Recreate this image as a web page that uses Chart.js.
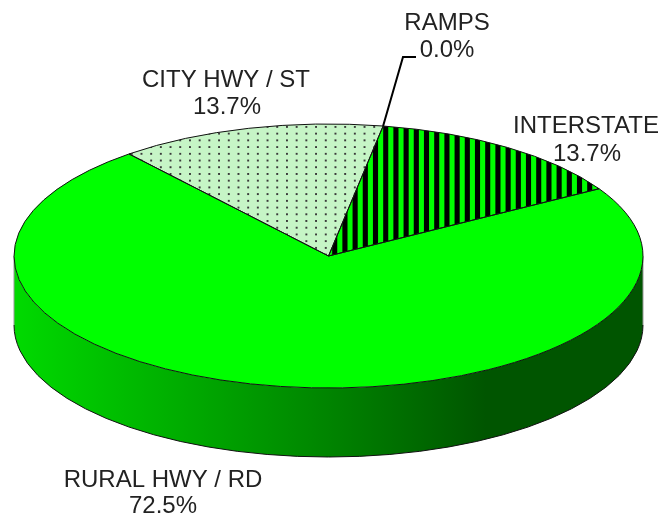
<!DOCTYPE html>
<html><head><meta charset="utf-8">
<style>html,body{margin:0;padding:0;background:#fff}#w{position:relative;width:666px;height:518px}</style>
<script src="https://cdn.jsdelivr.net/npm/chart.js@4"></script></head>
<body><div id="w"><canvas id="c" width="666" height="518"></canvas></div>
<script>
const categories = ['RAMPS','INTERSTATE','RURAL HWY / RD','CITY HWY / ST'];
const shares = [0.0, 13.7, 72.5, 13.7];
const shareLabels = ['0.0%','13.7%','72.5%','13.7%'];

const CX=328.5, CY=256, RX=314.5, RY=132, DEPTH=69;
const FONT='24px "Liberation Sans", Arial, sans-serif';
const TEXT='#222';

function stripes(sx,sy){
  const t=document.createElement('canvas');t.width=10;t.height=10;
  const g=t.getContext('2d');g.fillStyle='#00ff00';g.fillRect(0,0,10,10);
  g.fillStyle='#000';g.fillRect(0,0,5,10);
  const p=g.createPattern(t,'repeat');
  p.setTransform(new DOMMatrix().translate(0,0).scale(sx*1.02,sy));
  return p;
}
function dots(sx,sy){
  const t=document.createElement('canvas');t.width=10;t.height=7;
  const g=t.getContext('2d');g.fillStyle='#c6f5c6';g.fillRect(0,0,10,7);
  g.fillStyle='#3a3a3a';g.fillRect(3,2,2,2);
  const p=g.createPattern(t,'repeat');
  p.setTransform(new DOMMatrix().scale(sx*0.97,sy*0.96));
  return p;
}

const squash={
  id:'squash',
  beforeDatasetsDraw(chart){
    const a=chart.getDatasetMeta(0).data[0];
    const R=a.outerRadius, ctx=chart.ctx;
    ctx.save();
    const gr=ctx.createLinearGradient(CX-RX,0,CX+RX,0);
    gr.addColorStop(0,'#00da00');
    gr.addColorStop(0.5,'#008400');
    gr.addColorStop(0.75,'#005500');
    gr.addColorStop(1,'#005500');
    ctx.beginPath();
    ctx.ellipse(CX,CY,RX,RY,0,0,Math.PI);
    ctx.lineTo(CX-RX,CY+DEPTH);
    ctx.ellipse(CX,CY+DEPTH,RX,RY,0,Math.PI,0,true);
    ctx.closePath();
    ctx.fillStyle=gr;ctx.fill();
    // verticals are faint, the lower rim is dark
    ctx.lineWidth=1;ctx.strokeStyle='#999';
    ctx.beginPath();
    ctx.moveTo(CX-RX,CY);ctx.lineTo(CX-RX,CY+DEPTH);
    ctx.moveTo(CX+RX,CY);ctx.lineTo(CX+RX,CY+DEPTH);
    ctx.stroke();
    ctx.strokeStyle='#111';
    ctx.beginPath();
    ctx.ellipse(CX,CY+DEPTH,RX,RY,0,0,Math.PI);
    ctx.stroke();
    ctx.restore();
    // squash the round pie into the tilted top face
    ctx.save();
    ctx.translate(CX,CY);ctx.scale(RX/R,RY/R);ctx.translate(-a.x,-a.y);
  },
  afterDatasetsDraw(chart){
    const meta=chart.getDatasetMeta(0), ctx=chart.ctx;
    const a0=meta.data[0];
    ctx.restore();
    ctx.save();
    ctx.lineWidth=1;ctx.strokeStyle='#111';
    meta.data.forEach(arc=>{
      const p=arc.getProps(['startAngle','endAngle']);
      if(p.endAngle-p.startAngle<1e-6) return;
      ctx.beginPath();
      ctx.moveTo(CX,CY);
      ctx.lineTo(CX+RX*Math.cos(p.startAngle),CY+RY*Math.sin(p.startAngle));
      ctx.ellipse(CX,CY,RX,RY,0,p.startAngle,p.endAngle);
      ctx.closePath();ctx.stroke();
    });
    // leader line for the empty slice
    const s=a0.getProps(['startAngle']).startAngle;
    ctx.beginPath();
    ctx.lineWidth=2;ctx.strokeStyle='#000';
    ctx.moveTo(CX+RX*Math.cos(s),CY+RY*Math.sin(s));
    ctx.lineTo(403,57);ctx.lineTo(416,57);
    ctx.stroke();
    // labels
    ctx.font=FONT;ctx.fillStyle=TEXT;ctx.textAlign='center';ctx.textBaseline='alphabetic';
    const pos=[[447,30,447,57],[586,133,587,161],[163,487,163,513],[226,87,227,114]];
    categories.forEach((c,i)=>{
      ctx.fillText(c,pos[i][0],pos[i][1]);
      ctx.fillText(shareLabels[i],pos[i][2],pos[i][3]);
    });
    ctx.restore();
  }
};

const R0=259;
const chart=new Chart(document.getElementById('c'),{
  type:'pie',
  data:{labels:categories,datasets:[{
    data:shares,
    backgroundColor:['#00ff00',stripes(R0/RX,R0/RY),'#00ff00',dots(R0/RX,R0/RY)],
    borderWidth:0
  }]},
  options:{
    responsive:false,animation:false,rotation:10,
    layout:{padding:0},
    plugins:{legend:{display:false},tooltip:{enabled:false},title:{display:false}}
  },
  plugins:[squash]
});
</script></body></html>
